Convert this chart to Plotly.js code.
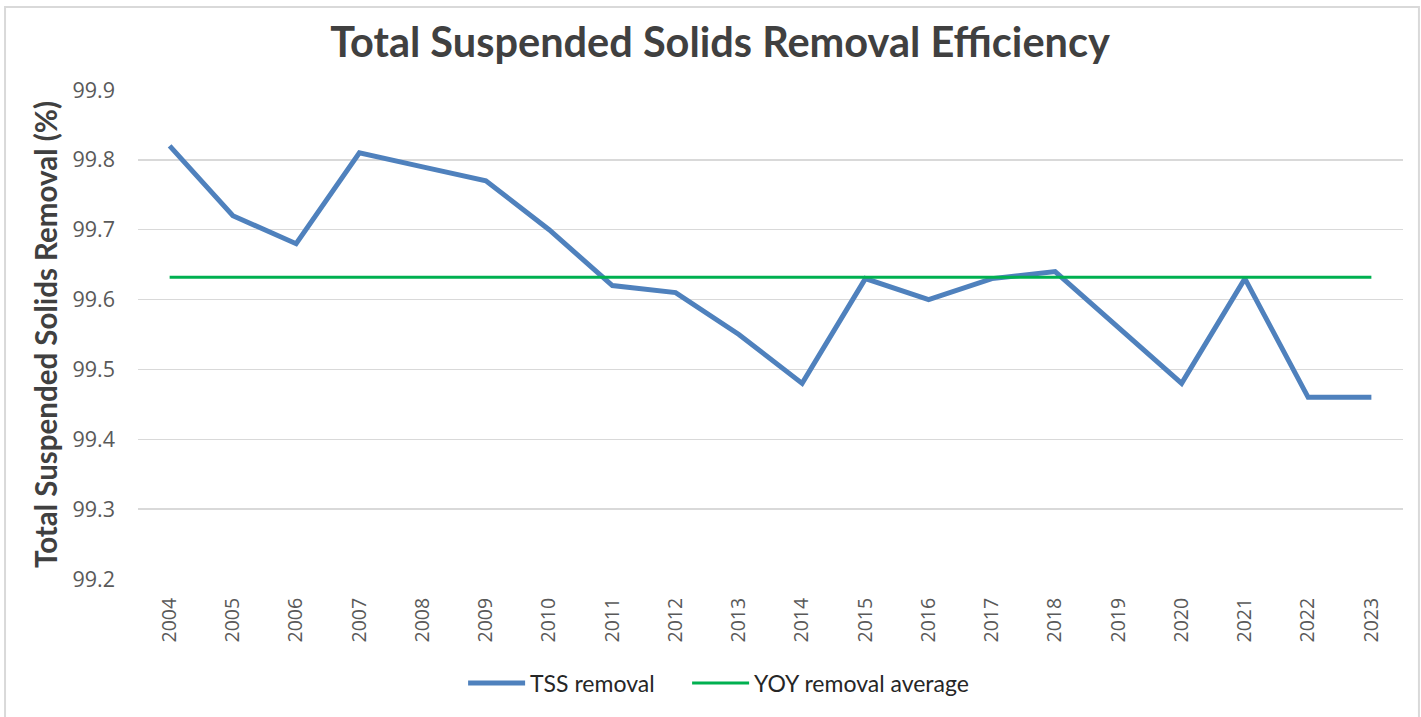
<!DOCTYPE html>
<html><head><meta charset="utf-8">
<script src="https://cdn.plot.ly/plotly-3.0.1.min.js"></script>
<style>html,body{margin:0;padding:0;background:#fff}#chart{width:1421px;height:717px}</style>
</head><body><div id="chart"></div>
<script>
const years = ['2004','2005','2006','2007','2008','2009','2010','2011','2012','2013','2014','2015','2016','2017','2018','2019','2020','2021','2022','2023'];
const tssRemoval = [99.82,99.72,99.68,99.81,99.79,99.77,99.70,99.62,99.61,99.55,99.48,99.63,99.60,99.63,99.64,99.56,99.48,99.63,99.46,99.46];
const yoyAverage = [99.632,99.632,99.632,99.632,99.632,99.632,99.632,99.632,99.632,99.632,99.632,99.632,99.632,99.632,99.632,99.632,99.632,99.632,99.632,99.632];
const yTicks = [99.2,99.3,99.4,99.5,99.6,99.7,99.8,99.9];

const traces = [
  {x: years, y: tssRemoval, type: 'scatter', mode: 'lines', name: 'TSS removal', legendwidth: 152,
   line: {color: '#4F81BD', width: 5}},
  {x: years, y: yoyAverage, type: 'scatter', mode: 'lines', name: 'YOY removal average', legendwidth: 240,
   line: {color: '#00B050', width: 3}}
];
const font = '"Open Sans", "DejaVu Sans", sans-serif';
const bold = 'Lato, "Open Sans", sans-serif';
const layout = {
  width: 1421, height: 717,
  margin: {l: 138, r: 18, t: 90, b: 138},
  paper_bgcolor: '#fff', plot_bgcolor: '#fff',
  showlegend: true,
  title: {text: '<b>Total Suspended Solids Removal Efficiency</b>', x: 0.5067, xanchor: 'center', y: 0.941, yanchor: 'middle',
          font: {family: bold, size: 41.5, color: '#404040'}},
  xaxis: {type: 'category', range: [-0.5, 19.5], tickangle: -90, showgrid: false, zeroline: false, showline: false,
          tickfont: {family: font, size: 19.5, color: '#595959'}, ticks: '', ticklabelstandoff: 14},
  yaxis: {range: [99.2, 99.9], tickvals: yTicks, ticktext: yTicks.map(v => v.toFixed(1)),
          showgrid: true, gridcolor: '#d9d9d9', gridwidth: 1.5, zeroline: false, showline: false,
          tickfont: {family: font, size: 21.5, color: '#595959'}, ticks: '', ticklabelstandoff: 22,
          title: {text: '<b>Total Suspended Solids Removal (%)</b>', standoff: 6,
                  font: {family: bold, size: 29.5, color: '#404040'}}},
  legend: {orientation: 'h', x: 0.257, xanchor: 'left', y: -0.213, yanchor: 'middle',
           font: {family: bold, size: 23, color: '#262626'}, itemwidth: 57, traceorder: 'normal'},
  shapes: [{type: 'rect', xref: 'paper', yref: 'paper', x0: -0.1051, x1: 1.0126, y0: -0.3, y1: 1.1697,
            line: {color: '#d9d9d9', width: 2}, fillcolor: 'rgba(0,0,0,0)', layer: 'below'}]
};
Plotly.newPlot('chart', traces, layout, {displayModeBar: false, staticPlot: true});
</script></body></html>
